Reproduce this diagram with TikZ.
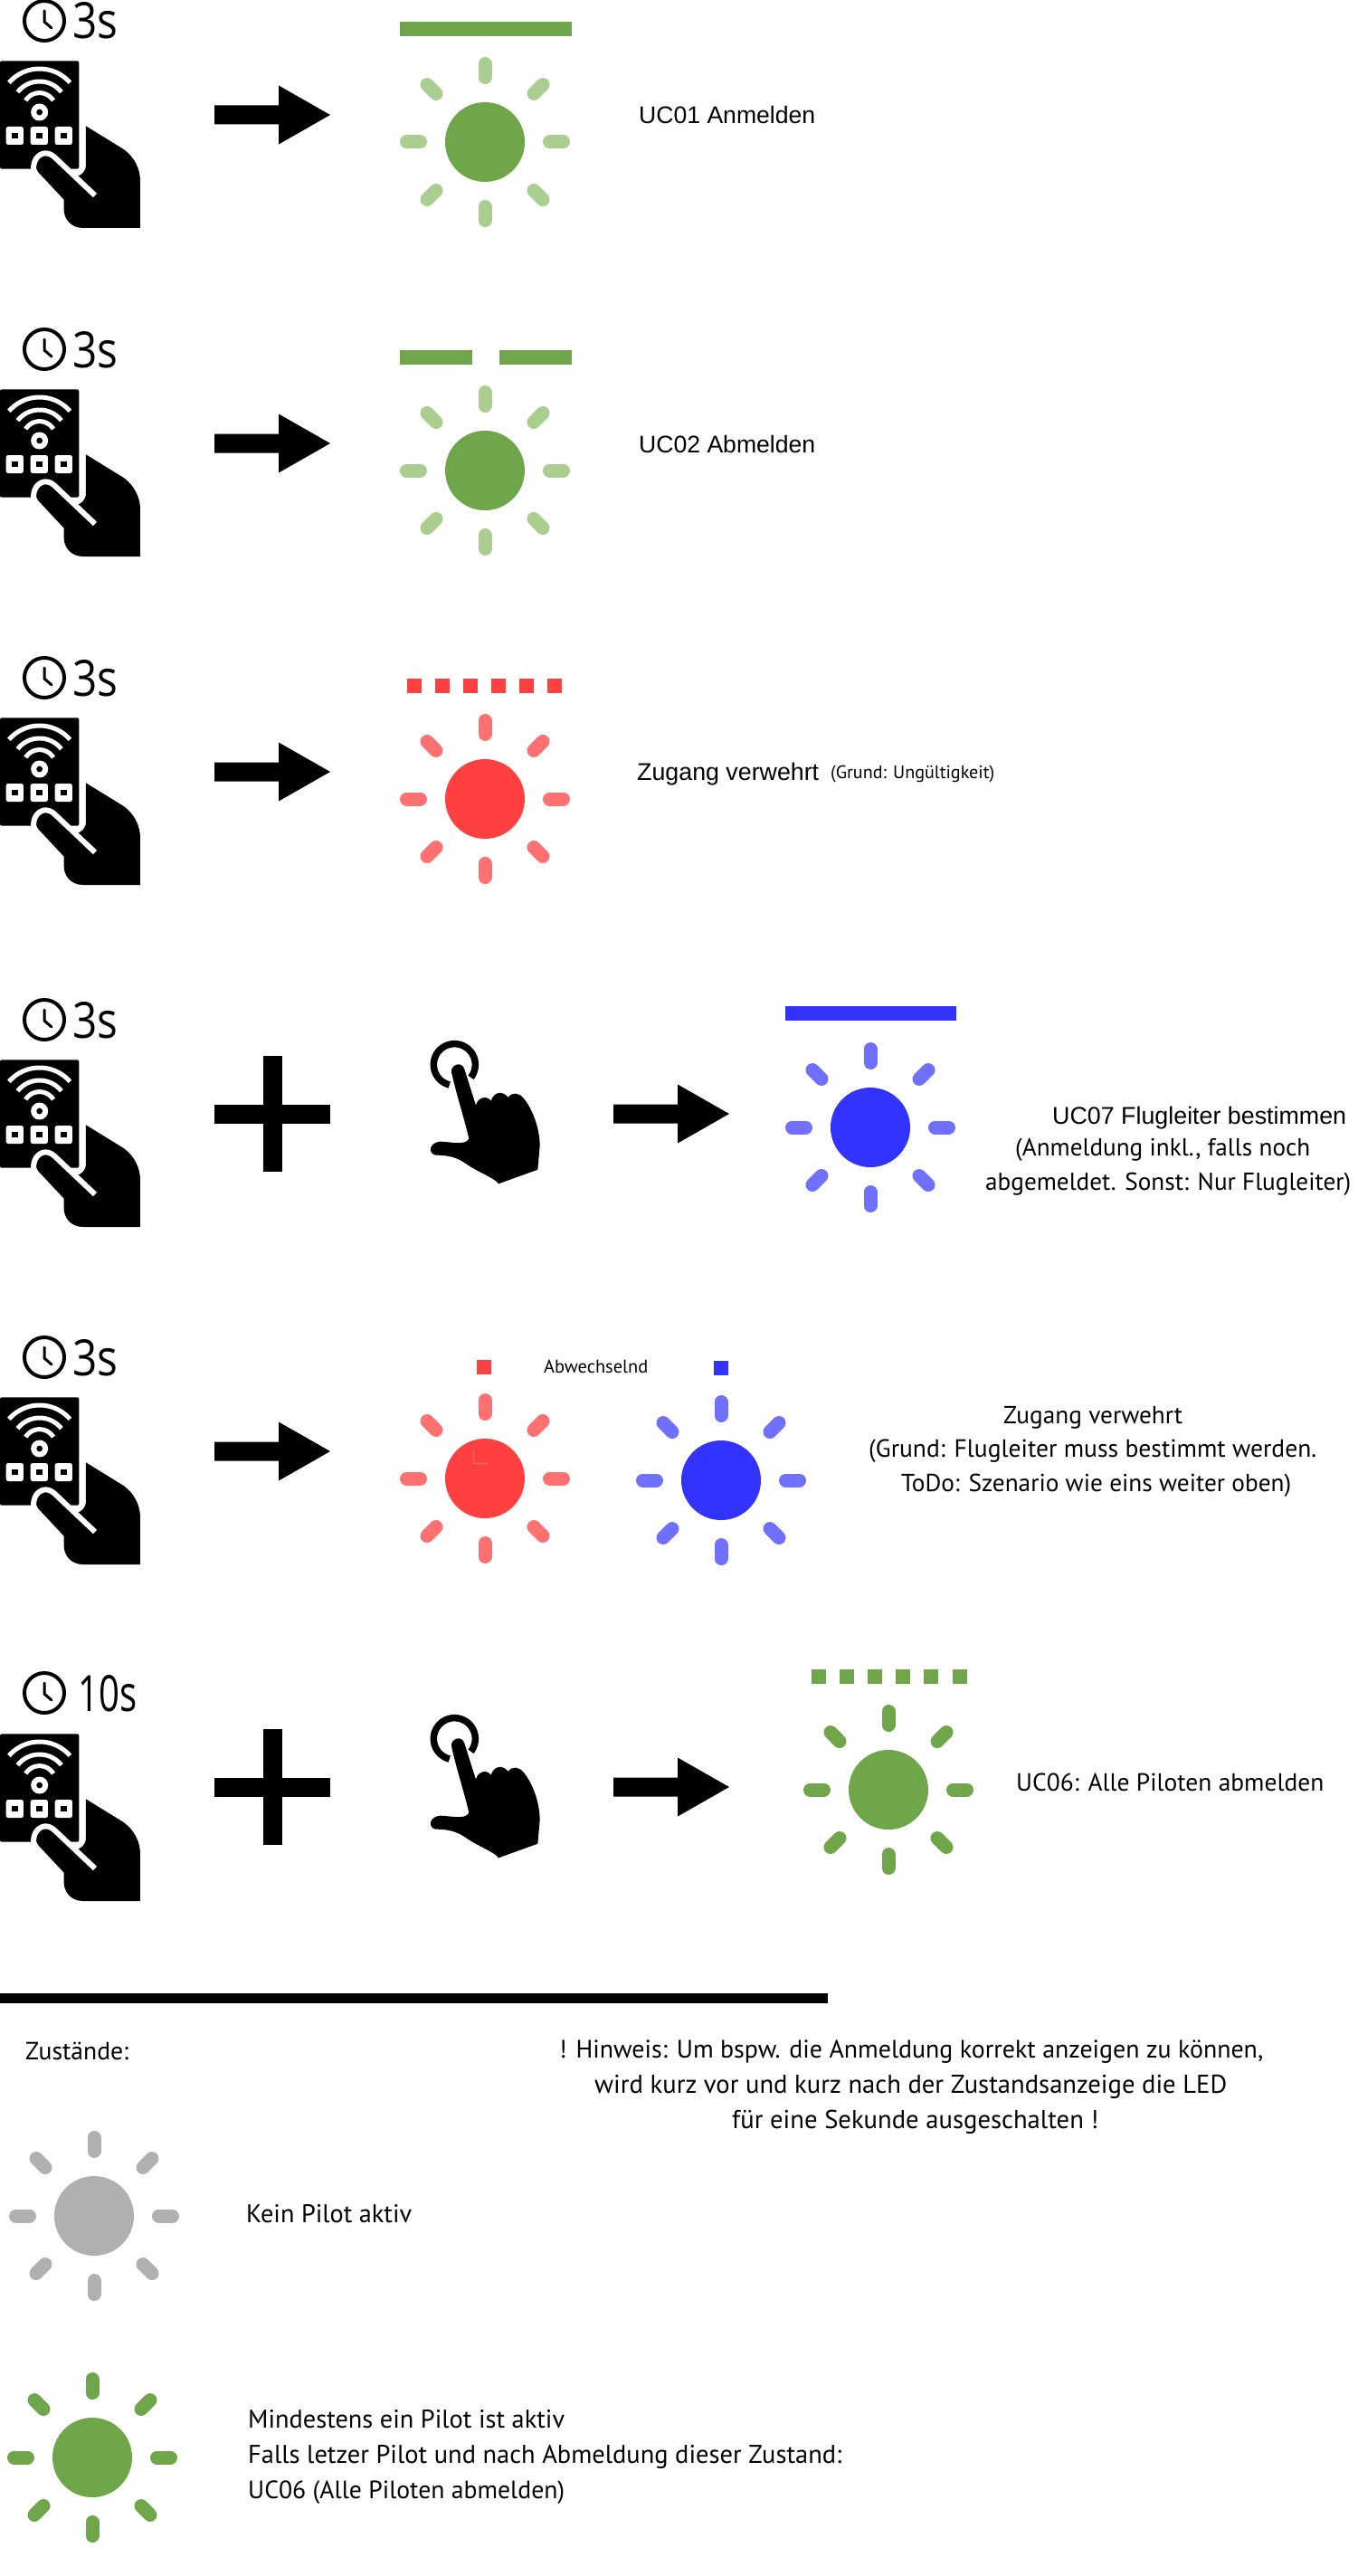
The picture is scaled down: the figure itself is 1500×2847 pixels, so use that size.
\documentclass[tikz,border=0pt]{standalone}
\usepackage{fontspec}
\usepackage{graphicx}
\setmainfont{Liberation Sans}
\newfontfamily\dinf{PT Sans}
\newfontfamily\helvf{Liberation Sans}
\newfontfamily\lightf{Open Sans}
\definecolor{gcore}{HTML}{70A64A}
\definecolor{gray1}{HTML}{B0B0B0}
\definecolor{glight}{HTML}{A9CE8F}
\definecolor{rcore}{HTML}{FF4040}
\definecolor{rlight}{HTML}{FF7070}
\definecolor{bcore}{HTML}{3333FF}
\definecolor{blight}{HTML}{7070FF}
\tikzset{
  lbl/.style={inner sep=0pt,anchor=base west,text=black},
  ray/.style={line width=15pt,line cap=round},
  wifi/.style={white,line width=5pt,line join=round},
}
\newcommand{\din}[2]{\resizebox{#1pt}{!}{\dinf #2}}
\newcommand{\helv}[2]{\resizebox{#1pt}{!}{\helvf #2}}
\newcommand{\sunicon}[4]{% cx cy raycolor corecolor
  \begin{scope}[shift={(#1,#2)}]
    \fill[#4] (0,0) circle[radius=44pt];
    \foreach \a/\b in {1/0,-1/0,0/1,0/-1}{
      \draw[ray,#3] (\a*71.5,\b*71.5) -- (\a*86.5,\b*86.5);
    }
    \foreach \a/\b in {1/1,-1/1,1/-1,-1/-1}{
      \draw[ray,#3] (\a*54,\b*53.5) -- (\a*64,\b*63.5);
    }
  \end{scope}}
\newcommand{\bigarrow}[2]{%
  \fill[black] (#1,#2-10.5) -- (#1+71,#2-10.5) -- (#1+71,#2-32.5) -- (#1+128,#2) -- (#1+71,#2+32.5) -- (#1+71,#2+10.5) -- (#1,#2+10.5) -- cycle;}
\newcommand{\plusicon}[2]{%
  \fill[black] (#1-64.5,#2-10.5) rectangle (#1+63.5,#2+10.5);
  \fill[black] (#1-10.5,#2-64.5) rectangle (#1+10.5,#2+64);}
\newcommand{\clockicon}[1]{% y offset from row 1
  \begin{scope}[shift={(0,#1)}]
    \draw[black,line width=4pt] (49,23) circle[radius=22pt];
    \draw[black,line width=3pt,line cap=round,line join=round] (49,12) -- (49,24) -- (57,31);
  \end{scope}}
\newcommand{\remoteicon}[1]{% y offset from row 1
  \begin{scope}[shift={(0,50+#1)},x=0.33333pt,y=-0.33333pt]
    \fill[black,rounded corners=2pt] (0,52) rectangle (262,410);
    \fill[black] (285,268) -- (410,345) .. controls (445,370) and (465,410) .. (465,450)
      -- (465,606) -- (275,606) .. controls (235,606) and (212,575) .. (212,545)
      -- (212,512) -- (128,422) .. controls (112,400) and (112,385) .. (125,372)
      -- (150,358) -- (250,436) .. controls (270,432) and (285,420) .. (285,395) -- cycle;
    \draw[white,line width=6pt,line join=round] (112,414) .. controls (108,385) and (125,360) .. (150,358)
      .. controls (165,358) and (175,365) .. (185,375) -- (315,498);
    \draw[wifi] plot[domain=-139:-41,samples=30] ({131+134*cos(\x)},{212+134*sin(\x)});
    \draw[wifi] plot[domain=-142:-38,samples=30] ({131+92*cos(\x)},{212+92*sin(\x)});
    \draw[wifi] plot[domain=-148:-32,samples=30] ({131+54*cos(\x)},{212+54*sin(\x)});
    \fill[white] (131,222) circle[radius=9.5pt];
    \fill[black] (131,222) circle[radius=3.4pt];
    \foreach \c in {49,130,211}{
      \fill[white,rounded corners=2.5pt] (\c-29,270) rectangle (\c+29,330);
      \fill[black] (\c-10,290) rectangle (\c+10,310);
    }
  \end{scope}}
\newcommand{\touchhand}[1]{% y offset from row 4
  \begin{scope}[shift={(450,1140+#1)},x=0.33333pt,y=-0.33333pt]
    \draw[black,line width=7.5pt] plot[domain=-256:38,samples=50] ({157+69*cos(\x)},{110+69*sin(\x)});
    \fill[black] (205,355) .. controls (190,290) and (165,215) .. (147,135)
      .. controls (143,112) and (180,95) .. (190,125)
      -- (228,245) .. controls (232,222) and (262,208) .. (278,230)
      .. controls (288,200) and (315,195) .. (335,218)
      .. controls (350,200) and (370,203) .. (385,220)
      .. controls (415,255) and (440,320) .. (440,380)
      -- (433,458) -- (303,505) .. controls (290,485) and (240,470) .. (190,435)
      .. controls (160,415) and (130,410) .. (95,410)
      .. controls (68,405) and (72,368) .. (110,365)
      .. controls (140,365) and (195,380) .. (205,355) -- cycle;
  \end{scope}}
\begin{document}
\begin{tikzpicture}[x=1pt,y=-1pt]
\useasboundingbox (0,0) rectangle (1500,2847);
% row clocks, remotes
\foreach \o in {0,363,726,1104,1477}{
  \clockicon{\o}
  \remoteicon{\o}
}
\clockicon{1848}
\remoteicon{1849}
\node[lbl] (t1) at (80,43) {\resizebox{50pt}{40pt}{\lightf 3s}};
\node[lbl] (t2) at (80,406) {\resizebox{50pt}{40pt}{\lightf 3s}};
\node[lbl] (t3) at (80,769) {\resizebox{50pt}{40pt}{\lightf 3s}};
\node[lbl] (t4) at (80,1147) {\resizebox{50pt}{40pt}{\lightf 3s}};
\node[lbl] (t5) at (80,1520) {\resizebox{50pt}{40pt}{\lightf 3s}};
\node[lbl] (t6) at (86,1891) {\resizebox{65pt}{40pt}{\lightf 10s}};
% row 1
\bigarrow{237}{127}
\fill[gcore] (442,24) rectangle (632,40);
\sunicon{536}{157}{glight}{gcore}
\node[lbl] (uc01) at (706,137) {\helv{195}{UC01 Anmelden}};
% row 2
\bigarrow{237}{490}
\fill[gcore] (442,387) rectangle (522,403);
\fill[gcore] (552,387) rectangle (632,403);
\sunicon{536}{520}{glight}{gcore}
\node[lbl] (uc02) at (706,500) {\helv{195}{UC02 Abmelden}};
% row 3
\bigarrow{237}{853}
\foreach \s in {450,481,512,543,574,605}{\fill[rcore] (\s,750) rectangle (\s+16,766);}
\sunicon{536}{883}{rlight}{rcore}
\node[lbl] (zv1) at (704,862) {\helv{201}{Zugang verwehrt}};
\node[lbl] (gr1) at (918,860) {\din{181}{(Grund: Ungültigkeit)}};
% row 4
\plusicon{301}{1231}
\touchhand{0}
\bigarrow{678}{1231}
\fill[bcore] (868,1112) rectangle (1057,1128);
\sunicon{962}{1246}{blight}{bcore}
\node[lbl] (uc07) at (1163,1242) {\helv{325}{UC07 Flugleiter bestimmen}};
\node[lbl] (uc07b) at (1122,1277) {\din{326}{(Anmeldung inkl., falls noch}};
\node[lbl] (uc07c) at (1089,1315) {\din{404}{abgemeldet. Sonst: Nur Flugleiter)}};
% row 5
\bigarrow{237}{1604}
\fill[rcore] (527,1503) rectangle (543,1519);
\fill[bcore] (789,1504) rectangle (805,1520);
\node[lbl] (abw) at (601,1517) {\din{115}{Abwechselnd}};
\sunicon{536}{1634}{rlight}{rcore}
\sunicon{797}{1636}{blight}{bcore}
\draw[rlight,line width=0.7pt] (523,1602) -- (523,1617) -- (539,1617);
\node[lbl] (zv2) at (1109,1573) {\din{198}{Zugang verwehrt}};
\node[lbl] (gr2) at (960,1610) {\din{495}{(Grund: Flugleiter muss bestimmt werden.}};
\node[lbl] (todo) at (996,1648) {\din{431}{ToDo: Szenario wie eins weiter oben)}};
% row 6
\plusicon{301}{1975}
\touchhand{745}
\bigarrow{678}{1975}
\foreach \s in {897,928,959,990,1021,1053}{\fill[gcore] (\s,1845) rectangle (\s+16,1861);}
\sunicon{982}{1978}{gcore}{gcore}
\node[lbl] (uc06) at (1123,1979) {\din{340}{UC06: Alle Piloten abmelden}};
% separator and legend
\fill[black] (0,2203) rectangle (915,2214);
\node[lbl] (zust) at (28,2276) {\din{114}{Zustände:}};
\node[lbl] (h1) at (618,2274) {\din{778}{! Hinweis: Um bspw. die Anmeldung korrekt anzeigen zu können,}};
\node[lbl] (h2) at (657,2313) {\din{699}{wird kurz vor und kurz nach der Zustandsanzeige die LED}};
\node[lbl] (h3) at (809,2352) {\din{405}{für eine Sekunde ausgeschalten !}};
\sunicon{104}{2449}{gray1}{gray1}
\node[lbl] (kein) at (272,2456) {\din{183}{Kein Pilot aktiv}};
\sunicon{102}{2716}{gcore}{gcore}
\node[lbl] (m1) at (274,2683) {\din{350}{Mindestens ein Pilot ist aktiv}};
\node[lbl] (m2) at (274,2722) {\din{656}{Falls letzer Pilot und nach Abmeldung dieser Zustand:}};
\node[lbl] (m3) at (274,2761) {\din{350}{UC06 (Alle Piloten abmelden)}};
\end{tikzpicture}
\end{document}
